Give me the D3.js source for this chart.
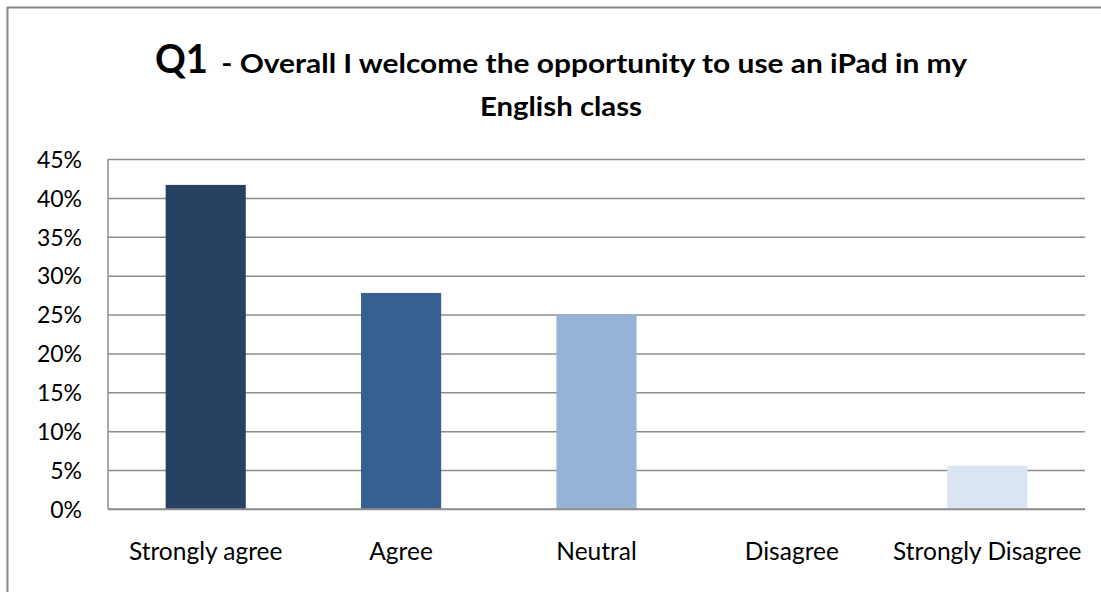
<!DOCTYPE html>
<html><head><meta charset="utf-8">
<script src="https://cdn.jsdelivr.net/npm/d3@7"></script>
<style>html,body{margin:0;padding:0;background:#fff;overflow:hidden}</style>
</head><body>
<svg id="c" width="1101" height="592"></svg>
<script>
const categories = ["Strongly agree", "Agree", "Neutral", "Disagree", "Strongly Disagree"];
const values = [0.4167, 0.2778, 0.25, 0, 0.0556];
const barColors = ["#264161", "#366092", "#95B3D7", "#95B3D7", "#DBE5F1"];
const yTicks = [0, 0.05, 0.10, 0.15, 0.20, 0.25, 0.30, 0.35, 0.40, 0.45];
const titleMain = "Q1";
const titleRest = " - Overall I welcome the opportunity to use an iPad in my";
const titleLine2 = "English class";

(function () {
const svg = d3.select("#c");
const font = "Lato, 'Open Sans', sans-serif";

// outer chart border (extends past window on right/bottom)
svg.append("rect").attr("x", 7.5).attr("y", 7.5).attr("width", 1200).attr("height", 700)
  .attr("fill", "#fff").attr("stroke", "#868686").attr("stroke-width", 2);

const pLeft = 108, pRight = 1085, pTop = 159, pBottom = 509;
const x = d3.scaleBand().domain(categories).range([pLeft, pRight]).paddingInner(0.59).paddingOuter(0.295);
const y = d3.scaleLinear().domain([0, 0.45]).range([pBottom, pTop]);

// gridlines + y labels
const yAxis = d3.axisLeft(y).tickValues(yTicks).tickFormat(d3.format(".0%")).tickSize(-(pRight - pLeft)).tickPadding(26);
const gy = svg.append("g").attr("transform", `translate(${pLeft},0)`).call(yAxis);
gy.select(".domain").remove();
gy.selectAll(".tick line").attr("stroke", "#8c8c8c").attr("stroke-width", 1.5);
gy.selectAll(".tick text").attr("font-family", font).attr("font-size", 23).attr("fill", "#000")
  .attr("x", -26).attr("dy", "0.36em");

// left axis line
svg.append("line").attr("x1", pLeft).attr("x2", pLeft).attr("y1", pTop).attr("y2", pBottom)
  .attr("stroke", "#8c8c8c").attr("stroke-width", 1.5);

// bars
svg.append("g").selectAll("rect").data(categories).join("rect")
  .attr("x", d => x(d)).attr("width", x.bandwidth())
  .attr("y", (d, i) => y(values[i])).attr("height", (d, i) => y(0) - y(values[i]))
  .attr("fill", (d, i) => barColors[i]);

// bottom axis
const xAxis = d3.axisBottom(x).tickSize(0).tickPadding(0);
const gx = svg.append("g").attr("transform", `translate(0,${pBottom})`).call(xAxis);
gx.select(".domain").attr("stroke", "#8c8c8c").attr("stroke-width", 1.5).attr("d", `M${pLeft},0H${pRight}`);
gx.selectAll(".tick text").attr("font-family", font).attr("font-size", 24.5).attr("fill", "#000")
  .attr("y", 51).attr("dy", 0);

// title
const t1 = svg.append("text").attr("y", 73).attr("font-family", font).attr("font-weight", "bold").attr("fill", "#000");
t1.append("tspan").attr("x", 155).attr("font-size", 40).attr("textLength", 53).attr("lengthAdjust", "spacingAndGlyphs").text(titleMain);
t1.append("tspan").attr("x", 214).attr("font-size", 26).attr("textLength", 753).attr("lengthAdjust", "spacingAndGlyphs").text(titleRest);
svg.append("text").attr("x", 480).attr("y", 116).attr("font-family", font).attr("font-weight", "bold")
  .attr("font-size", 26).attr("textLength", 162).attr("lengthAdjust", "spacingAndGlyphs").text(titleLine2);
})();
</script>
</body></html>
